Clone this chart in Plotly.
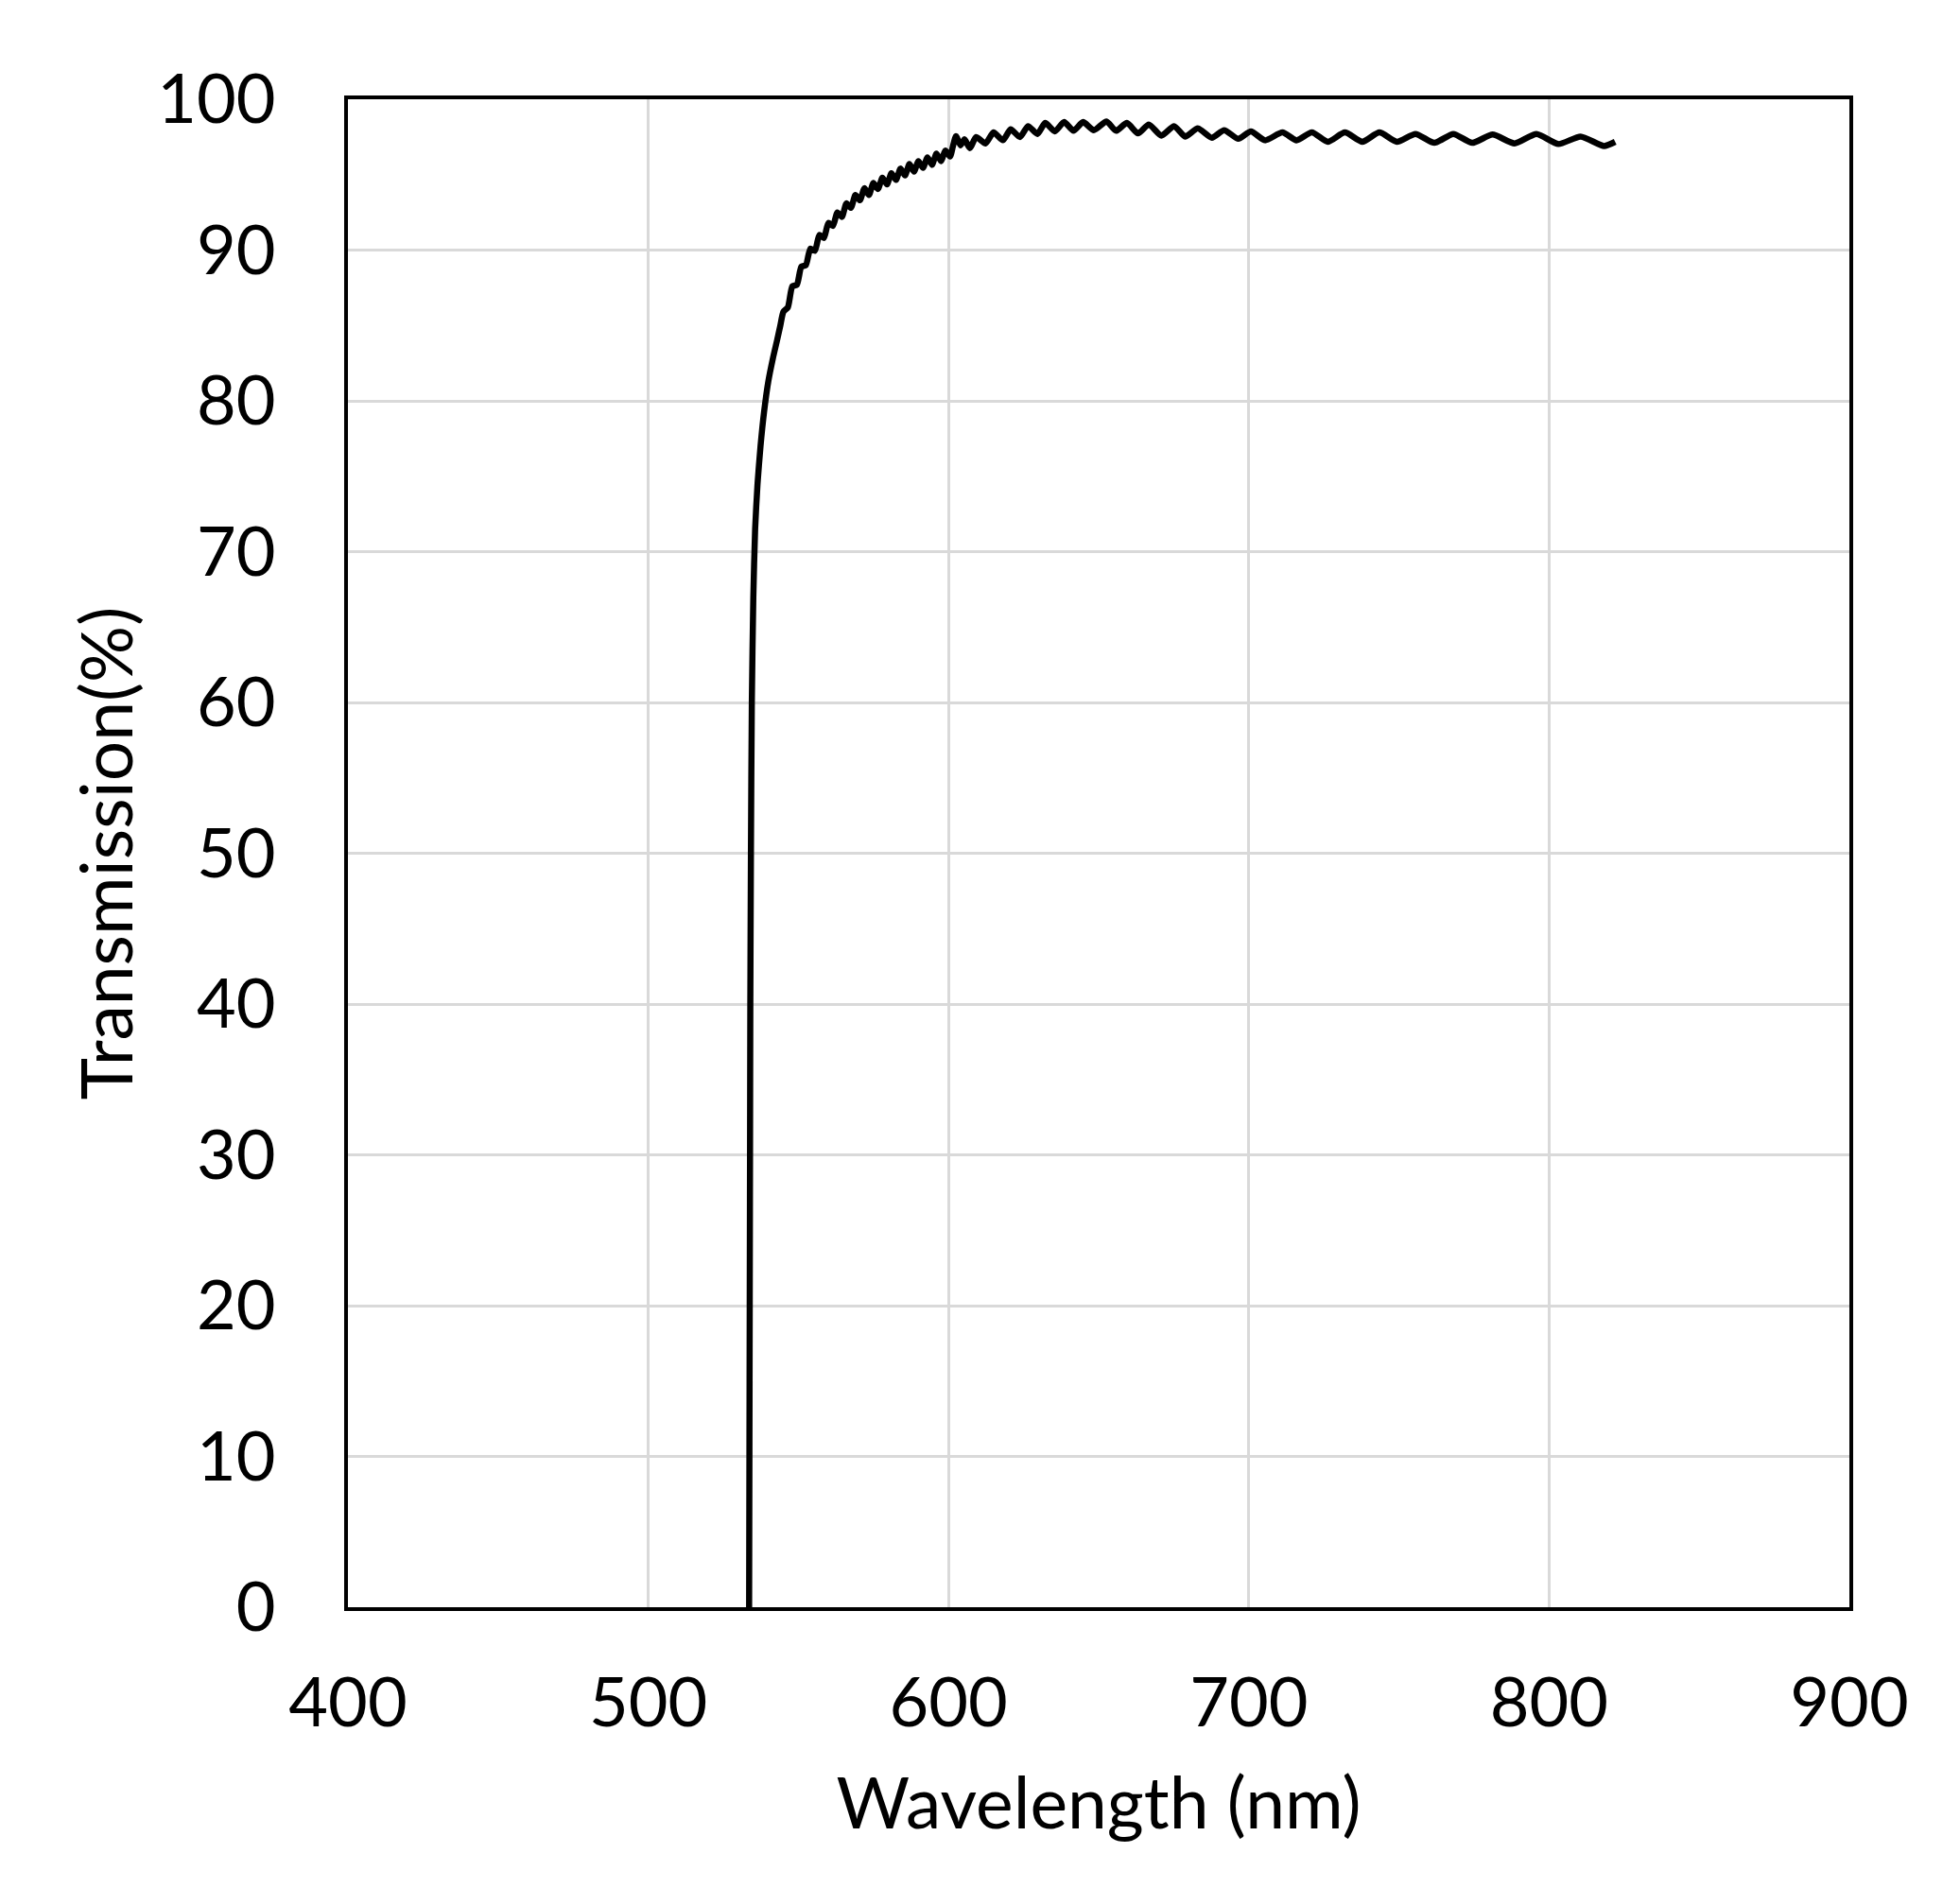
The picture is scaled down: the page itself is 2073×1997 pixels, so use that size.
import plotly.graph_objects as go

# Wavelength (nm) and transmission (%)
wavelength_nm = [
    533.6, 533.7, 533.8, 533.9, 534.0, 534.2, 534.5, 535.0, 535.6, 536.4, 537.4, 538.6,
    540.0, 541.5, 543.0, 544.0,
    545.0, 546.5, 548.0, 549.5, 551.0, 552.5, 554.0, 555.5, 557.0, 558.5, 560.0, 561.5,
    563.0, 564.5, 566.0, 567.5, 569.0, 570.5, 572.0, 573.5, 575.0, 576.5, 578.0, 579.5,
    581.0, 582.5, 584.0, 585.5, 587.0, 588.5, 590.0, 591.5, 593.0, 594.5, 596.0, 597.5,
    599.0, 600.5, 601.5, 602.5, 604.0, 605.3,
    607.1, 609.2, 612.3, 615.0, 618.1, 620.7, 623.8, 626.5, 629.6, 632.2, 635.4, 638.5,
    641.6, 644.8, 648.4, 652.6, 655.8, 659.4, 663.1, 666.7, 670.9, 675.1, 678.8, 683.0,
    687.7, 691.8, 696.5, 700.7, 705.4, 711.2, 715.9, 721.0, 726.3, 732.0, 737.8, 743.5,
    749.3, 755.5, 761.8, 768.1, 774.4, 781.2, 788.5, 795.8, 803.1, 810.5, 818.3, 822.0,
]
transmission_pct = [
    0.0, 10.0, 20.0, 30.0, 40.0, 50.0, 60.0, 67.0, 71.5, 74.5, 77.0, 79.3,
    81.3, 82.8, 84.1, 85.0,
    85.9, 86.2, 87.6, 87.7, 88.9, 89.0, 90.1, 89.95, 91.0, 90.8, 91.8, 91.6,
    92.5, 92.2, 93.1, 92.8, 93.65, 93.3, 94.1, 93.65, 94.45, 94.05, 94.8, 94.35,
    95.1, 94.65, 95.4, 94.95, 95.7, 95.2, 95.9, 95.45, 96.15, 95.65, 96.4, 95.9,
    96.6, 96.2, 96.9, 97.55, 96.95, 97.35,
    96.76, 97.49, 97.07, 97.80, 97.28, 98.01, 97.49, 98.22, 97.70, 98.43, 97.87, 98.49,
    97.91, 98.49, 97.95, 98.53, 97.91, 98.43, 97.74, 98.33, 97.59, 98.22, 97.53, 98.07,
    97.45, 97.95, 97.38, 97.87, 97.28, 97.80, 97.28, 97.80, 97.18, 97.80, 97.18, 97.80,
    97.18, 97.70, 97.11, 97.70, 97.11, 97.66, 97.07, 97.70, 97.03, 97.53, 96.90, 97.18,
]

x_ticks = [400, 500, 600, 700, 800, 900]
y_ticks = [0, 10, 20, 30, 40, 50, 60, 70, 80, 90, 100]

FONT = "Lato"

fig = go.Figure()
fig.add_trace(go.Scatter(
    x=wavelength_nm, y=transmission_pct, mode="lines",
    line=dict(color="black", width=6.5, shape="spline", smoothing=0.6),
    showlegend=False, hoverinfo="skip",
))

fig.update_layout(
    width=2073, height=1997,
    paper_bgcolor="white", plot_bgcolor="white",
    margin=dict(l=360, r=125, t=97, b=305, autoexpand=False),
    font=dict(family=FONT, size=72, color="black"),
)
fig.update_xaxes(
    range=[400, 900], tickvals=x_ticks, ticktext=[str(v) for v in x_ticks],
    showgrid=True, gridcolor="#d9d9d9", gridwidth=3,
    showline=True, linecolor="black", linewidth=4, mirror=True,
    ticks="", ticklabelstandoff=36, zeroline=False, automargin=False,
    tickfont=dict(family=FONT, size=72, color="black"),
    title=dict(text="Wavelength (nm)", font=dict(family=FONT, size=75, color="black"), standoff=42),
)
fig.update_yaxes(
    range=[0, 100], tickvals=y_ticks, ticktext=[str(v) for v in y_ticks],
    showgrid=True, gridcolor="#d9d9d9", gridwidth=3,
    showline=True, linecolor="black", linewidth=4, mirror=True,
    ticks="", ticklabelstandoff=58, zeroline=False, automargin=False,
    tickfont=dict(family=FONT, size=72, color="black"),
    title=dict(text="Transmission(%)", font=dict(family=FONT, size=75, color="black"), standoff=2),
)

fig.write_html("out.html")
